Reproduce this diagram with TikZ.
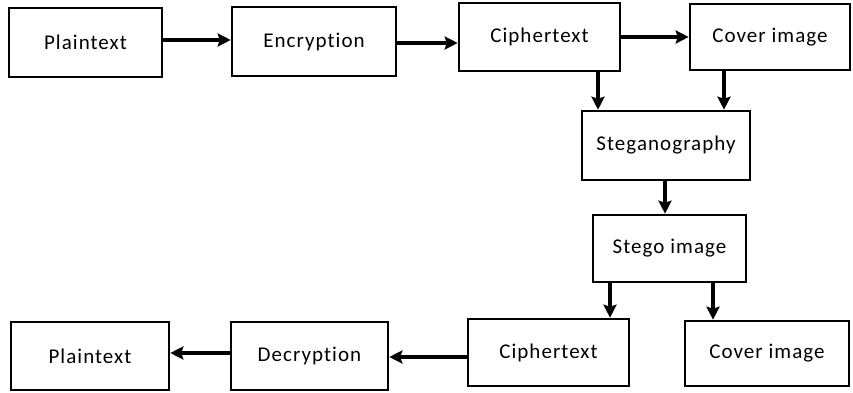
\documentclass[tikz,border=0pt]{standalone}
\usepackage{fontspec}
\setmainfont{Carlito}[Ligatures={NoCommon,NoContextual},LetterSpace=5]
\usetikzlibrary{arrows.meta}
\begin{document}
\begin{tikzpicture}[x=1pt,y=-1pt,
  box/.style={draw=black,line width=2.6pt,inner sep=0pt,font=\fontsize{21}{25}\selectfont},
  arr/.style={line width=3.6pt,-{Stealth[length=13pt,width=13pt,inset=2pt]}}]
\useasboundingbox (0,0) rectangle (853,393);
\node[box,minimum width=153,minimum height=69] (pt1) at (85.5,42.5) {Plaintext};
\node[box,minimum width=164,minimum height=69] (enc) at (314,41.5) {Encryption};
\node[box,minimum width=161,minimum height=68] (cip1) at (539.5,37) {Ciphertext};
\node[box,minimum width=160,minimum height=66] (cov1) at (770,37) {Cover image};
\node[box,minimum width=168,minimum height=69] (steg) at (666,145.5) {Steganography};
\node[box,minimum width=153,minimum height=67] (stego) at (669.5,248.5) {Stego image};
\node[box,minimum width=161,minimum height=67] (cip2) at (548.5,352.5) {Ciphertext};
\node[box,minimum width=164,minimum height=65] (cov2) at (767,353.5) {Cover image};
\node[box,minimum width=157,minimum height=68] (dec) at (309.5,356) {Decryption};
\node[box,minimum width=158,minimum height=68] (pt2) at (90,356) {Plaintext};
\coordinate (h1) at (0,40);
\coordinate (h2) at (0,43);
\coordinate (h3) at (0,37);
\coordinate (h4) at (0,357);
\coordinate (h5) at (0,353);
\coordinate (v1) at (598,0);
\coordinate (v2) at (724,0);
\coordinate (v3) at (665,0);
\coordinate (v4) at (610,0);
\coordinate (v5) at (713,0);
\draw[arr] (pt1.east |- h1) -- (enc.west |- h1);
\draw[arr] (enc.east |- h2) -- (cip1.west |- h2);
\draw[arr] (cip1.east |- h3) -- (cov1.west |- h3);
\draw[arr] (cip1.south -| v1) -- (steg.north -| v1);
\draw[arr] (cov1.south -| v2) -- (steg.north -| v2);
\draw[arr] (steg.south -| v3) -- (stego.north -| v3);
\draw[arr] (stego.south -| v4) -- (cip2.north -| v4);
\draw[arr] (stego.south -| v5) -- (cov2.north -| v5);
\draw[arr] (cip2.west |- h4) -- (dec.east |- h4);
\draw[arr] (dec.west |- h5) -- (pt2.east |- h5);
\end{tikzpicture}
\end{document}
